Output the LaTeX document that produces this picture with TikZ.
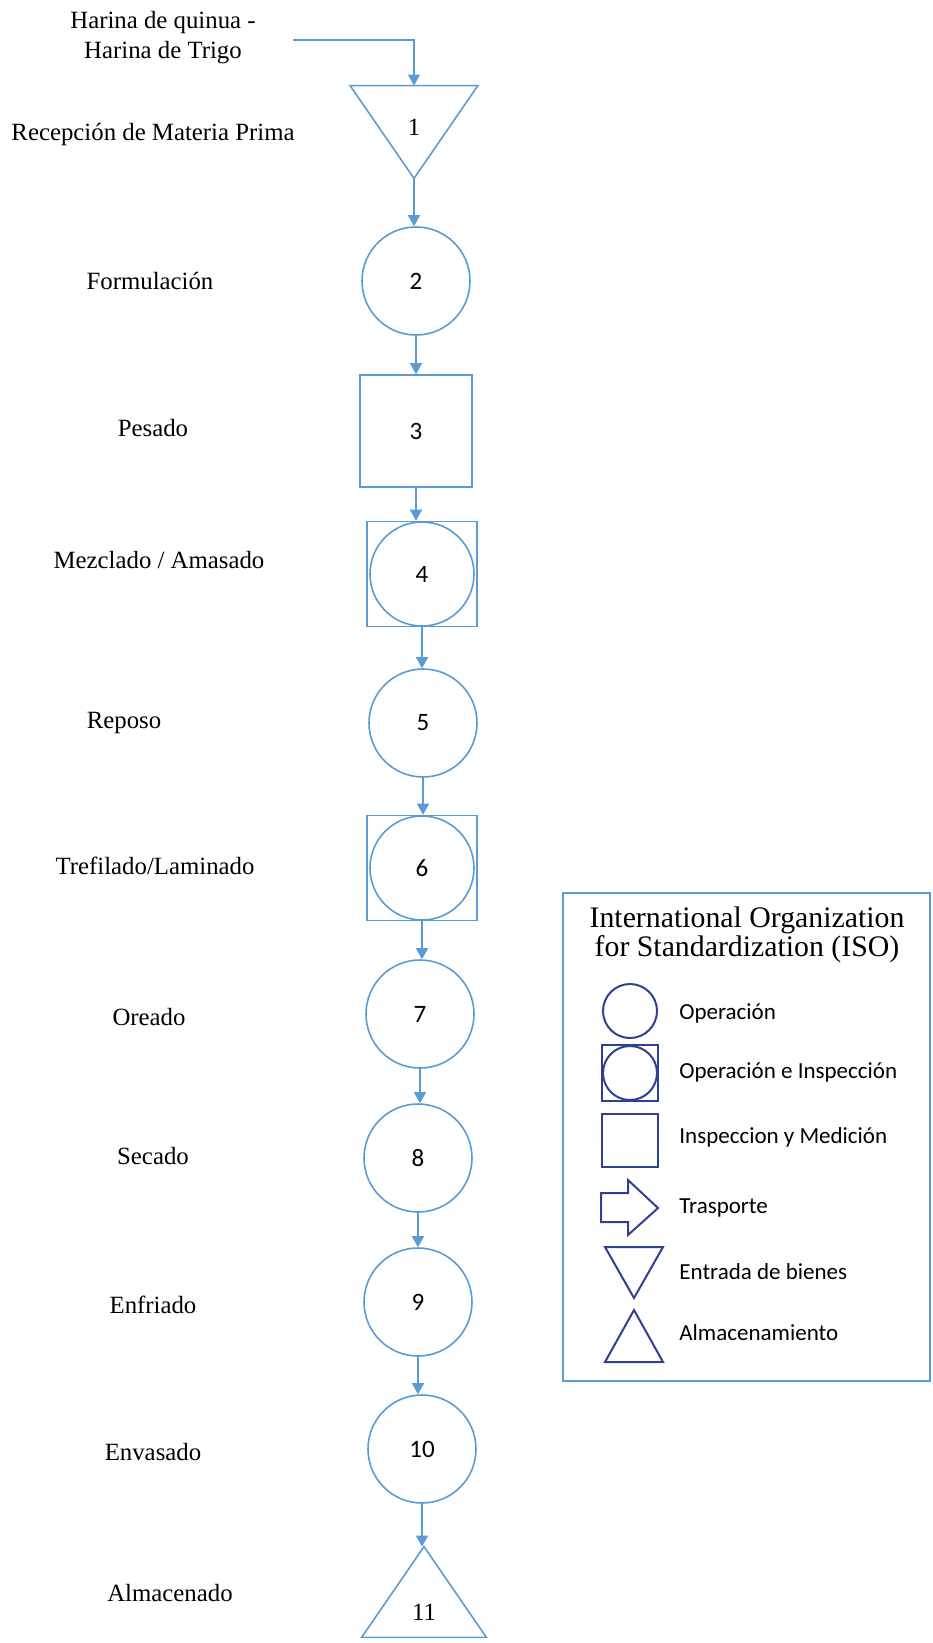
\documentclass[tikz,border=0pt]{standalone}
\usepackage{fontspec}
\setmainfont{Liberation Serif}
\newfontfamily\legendfont{Carlito}
\usetikzlibrary{arrows.meta}
\definecolor{flowblue}{RGB}{91,155,213}
\definecolor{isoblue}{RGB}{47,63,150}

\begin{document}
\begin{tikzpicture}[x=0.5pt,y=-0.5pt]
  \useasboundingbox (0,0) rectangle (932,1643);
  \tikzset{op/.style={draw=flowblue,line width=0.8pt,circle,minimum size=54pt,inner sep=0pt,font=\legendfont\fontsize{12.5}{14}\selectfont}}
  \tikzset{insp/.style={draw=flowblue,line width=0.8pt,rectangle,minimum size=56pt,inner sep=0pt,font=\legendfont\fontsize{12.5}{14}\selectfont}}
  \tikzset{opinsp/.style={insp,minimum width=55pt,minimum height=52.5pt,
    path picture={\draw[flowblue,line width=0.8pt] (path picture bounding box.center) circle (26pt);}}}
  \tikzset{tri/.style={minimum width=63.5pt,minimum height=46pt,inner sep=0pt}}
  \tikzset{trishape/.style={draw=flowblue,line width=0.8pt,line join=miter}}
  \tikzset{stepname/.style={font=\fontsize{12.4}{15}\selectfont,inner sep=0pt}}
  \tikzset{transition/.style={flowblue,line width=0.8pt,-{Triangle[width=6pt,length=5.5pt]}}}
  \tikzset{legsym/.style={draw=isoblue,line width=1pt,inner sep=0pt}}
  \tikzset{legtext/.style={anchor=west,inner sep=0pt,font=\legendfont\fontsize{11.5}{13}\selectfont}}
  % raw material entry
  \coordinate (in) at (293,40);
  \node[stepname,align=center] (src) at (163,38) {Harina de quinua -\\Harina de Trigo};
  % process column
  \node[tri] (t1) at (414,132) {};
  \draw[trishape] (t1.north west) -- (t1.north east) -- (t1.south) -- cycle;
  \node[stepname] (n1) at (414,127) {1};
  \node[op] (c2) at (416,281) {2};
  \node[insp] (c3) at (416,431) {3};
  \node[opinsp] (c4) at (422,574) {4};
  \node[op] (c5) at (423,723) {5};
  \node[opinsp] (c6) at (422,868) {6};
  \node[op] (c7) at (420,1014) {7};
  \node[op] (c8) at (418,1158) {8};
  \node[op] (c9) at (418,1302) {9};
  \node[op] (c10) at (422,1449) {10};
  \node[tri,minimum width=62pt,minimum height=45pt] (t11) at (424,1592) {};
  \draw[trishape] (t11.south west) -- (t11.south east) -- (t11.north) -- cycle;
  \node[stepname] (n11) at (424,1612) {11};
  % step names
  \node[stepname] (l1) at (153,135) {Recepción de Materia Prima};
  \node[stepname] (l2) at (150,281) {Formulación};
  \node[stepname] (l3) at (153,428) {Pesado};
  \node[stepname] (l4) at (159,560) {Mezclado / Amasado};
  \node[stepname] (l5) at (124,723) {Reposo};
  \node[stepname] (l6) at (155,866) {Trefilado/Laminado};
  \node[stepname] (l7) at (149,1017) {Oreado};
  \node[stepname] (l8) at (153,1156) {Secado};
  \node[stepname] (l9) at (153,1305) {Enfriado};
  \node[stepname] (l10) at (153,1452) {Envasado};
  \node[stepname] (l11) at (170,1593) {Almacenado};
  % flow
  \draw[transition] (in) -- (in -| t1.north) -- (t1.north);
  \draw[transition] (t1.south) -- (t1.south |- c2.north);
  \draw[transition] (c2.south) -- (c2.south |- c3.north);
  \draw[transition] (c3.south) -- (c3.south |- c4.north);
  \draw[transition] (c4.south) -- (c4.south |- c5.north);
  \draw[transition] (c5.south) -- (c5.south |- c6.north);
  \draw[transition] (c6.south) -- (c6.south |- c7.north);
  \draw[transition] (c7.south) -- (c7.south |- c8.north);
  \draw[transition] (c8.south) -- (c8.south |- c9.north);
  \draw[transition] (c9.south) -- (c9.south |- c10.north);
  \draw[transition] (c10.south) -- (c10.south |- t11.north);
  % legend
  \node[draw=flowblue,line width=0.8pt,minimum width=183.5pt,minimum height=244pt] (iso) at (746.5,1137) {};
  \node[align=center,inner sep=0pt,font=\fontsize{14.9}{13.6}\selectfont] (isotitle) at (747,935)
    {International Organization\\for Standardization (ISO)};
  \node[legsym,circle,minimum size=27pt] (s1) at (630,1011) {};
  \node[legsym,rectangle,minimum size=28pt,
    path picture={\draw[isoblue,line width=1pt] (path picture bounding box.center) circle (13.5pt);}] (s2) at (630,1073) {};
  \node[legsym,rectangle,minimum width=28pt,minimum height=26.5pt] (s3) at (630,1140) {};
  \draw[legsym] (601,1193) -- (628,1193) -- (628,1180) -- (658,1208) -- (628,1235) -- (628,1222) -- (601,1222) -- cycle;
  \draw[legsym] (605,1247) -- (663,1247) -- (634,1298) -- cycle;
  \draw[legsym] (634,1310) -- (663,1362) -- (605,1362) -- cycle;
  \node[legtext] (d1) at (679,1013) {Operación};
  \node[legtext] (d2) at (679,1072) {Operación e Inspección};
  \node[legtext] (d3) at (679,1137) {Inspeccion y Medición};
  \node[legtext] (d4) at (679,1208) {Trasporte};
  \node[legtext] (d5) at (679,1272) {Entrada de bienes};
  \node[legtext] (d6) at (679,1333) {Almacenamiento};
\end{tikzpicture}
\end{document}
